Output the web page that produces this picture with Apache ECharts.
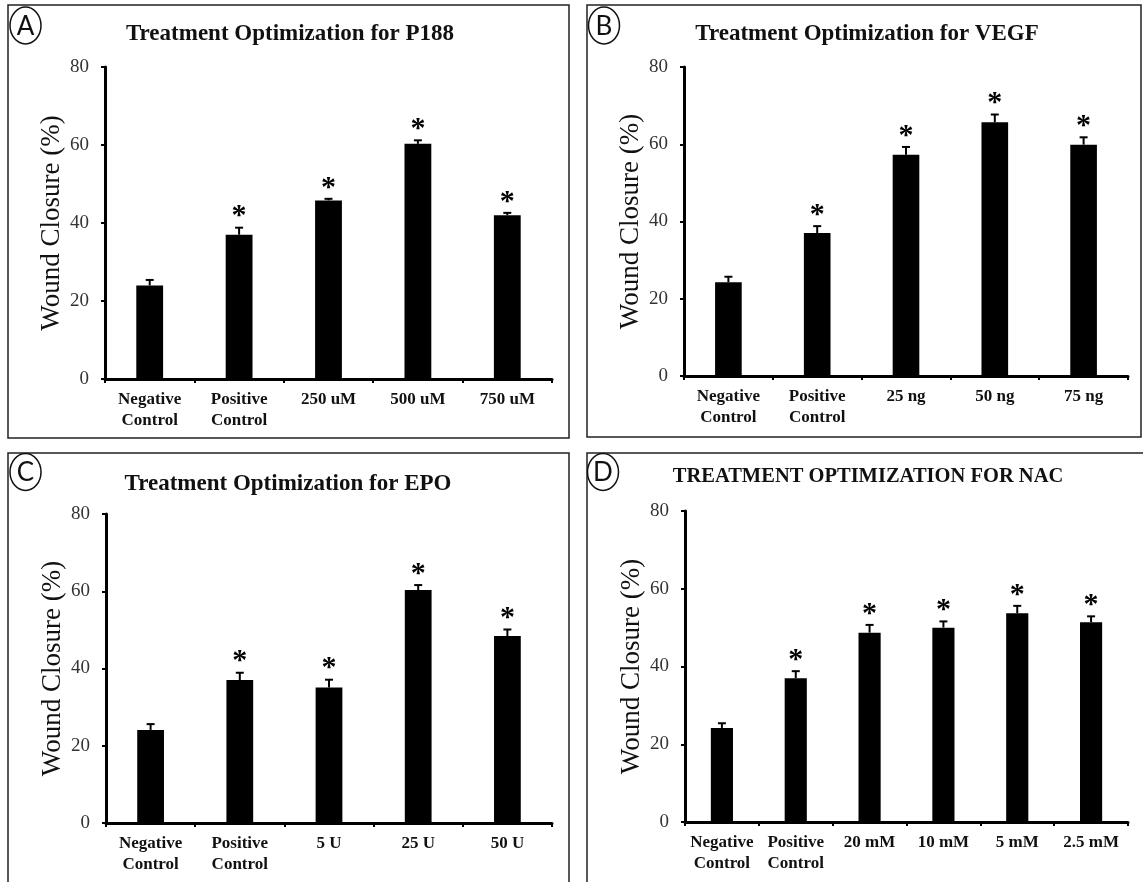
<!DOCTYPE html>
<html>
<head>
<meta charset="utf-8">
<script src="https://cdn.jsdelivr.net/npm/echarts@6/dist/echarts.min.js"></script>
<style>
  html, body { margin: 0; padding: 0; background: #fff; }
  #chart { width: 1143px; height: 882px; }
</style>
</head>
<body>
<div id="chart"></div>
<script>
// Wound closure (%) per treatment, mean and SEM, four panels
const yTicks = [0, 20, 40, 60, 80];

const catsA = ['Negative\nControl', 'Positive\nControl', '250 uM', '500 uM', '750 uM'];
const meanA = [24.0, 37.0, 45.8, 60.3, 42.0];
const errA  = [1.4, 1.8, 0.4, 0.9, 0.6];
const sigA  = ['', '*', '*', '*', '*'];

const catsB = ['Negative\nControl', 'Positive\nControl', '25 ng', '50 ng', '75 ng'];
const meanB = [24.3, 37.0, 57.3, 65.7, 59.9];
const errB  = [1.4, 1.8, 2.0, 2.0, 1.9];
const sigB  = ['', '*', '*', '*', '*'];

const catsC = ['Negative\nControl', 'Positive\nControl', '5 U', '25 U', '50 U'];
const meanC = [24.1, 37.0, 35.1, 60.3, 48.4];
const errC  = [1.5, 1.9, 2.0, 1.3, 1.7];
const sigC  = ['', '*', '*', '*', '*'];

const catsD = ['Negative\nControl', 'Positive\nControl', '20 mM', '10 mM', '5 mM', '2.5 mM'];
const meanD = [24.2, 37.0, 48.7, 50.0, 53.7, 51.4];
const errD  = [1.2, 1.8, 2.0, 1.6, 1.9, 1.5];
const sigD  = ['', '*', '*', '*', '*', '*'];

const titles = [
  'Treatment Optimization for P188',
  'Treatment Optimization for VEGF',
  'Treatment Optimization for EPO',
  'TREATMENT OPTIMIZATION FOR NAC'
];
const letters = ['A', 'B', 'C', 'D'];
const yName = 'Wound Closure (%)';

const SERIF = '"Liberation Serif", "Times New Roman", serif';

const panels = [
  { cats: catsA, mean: meanA, err: errA, sig: sigA,
    grid: { left: 105, top: 67, width: 447, height: 312 },
    frame: { x: 8, y: 5, width: 561, height: 433 },
    title: { x: 290, y: 34, size: 23 }, badge: { cx: 25.5, cy: 25.5 } },
  { cats: catsB, mean: meanB, err: errB, sig: sigB,
    grid: { left: 684, top: 67, width: 444, height: 309 },
    frame: { x: 587, y: 5, width: 554, height: 432 },
    title: { x: 867, y: 34, size: 23 }, badge: { cx: 604, cy: 25.5 } },
  { cats: catsC, mean: meanC, err: errC, sig: sigC,
    grid: { left: 106, top: 514, width: 446, height: 309 },
    frame: { x: 8, y: 453, width: 561, height: 460 },
    title: { x: 288, y: 484, size: 23 }, badge: { cx: 25.5, cy: 472 } },
  { cats: catsD, mean: meanD, err: errD, sig: sigD,
    grid: { left: 685, top: 511, width: 443, height: 311 },
    frame: { x: 587, y: 453, width: 580, height: 460 },
    title: { x: 868, y: 477, size: 20.5 }, badge: { cx: 603, cy: 472 } }
];

const grids = [], xAxes = [], yAxes = [], series = [], graphics = [];

panels.forEach((p, i) => {
  grids.push(Object.assign({ containLabel: false }, p.grid));

  xAxes.push({
    type: 'category', gridIndex: i, data: p.cats,
    axisLine: { show: true, lineStyle: { color: '#000', width: 3 } },
    axisTick: { show: true, length: 4, lineStyle: { color: '#000', width: 2 } },
    axisLabel: { fontFamily: SERIF, fontWeight: 'bold', fontSize: 17, color: '#111',
                 lineHeight: 21, margin: 10, interval: 0 },
    splitLine: { show: false }
  });

  yAxes.push({
    type: 'value', gridIndex: i,
    min: yTicks[0], max: yTicks[yTicks.length - 1], interval: yTicks[1] - yTicks[0],
    name: yName, nameLocation: 'middle', nameGap: 40,
    nameTextStyle: { fontFamily: SERIF, fontSize: 27, color: '#111' },
    axisLine: { show: true, lineStyle: { color: '#000', width: 3 } },
    axisTick: { show: true, length: 4, lineStyle: { color: '#000', width: 2 } },
    axisLabel: { fontFamily: SERIF, fontSize: 19, color: '#333', margin: 16 },
    splitLine: { show: false }
  });

  series.push({
    type: 'bar', xAxisIndex: i, yAxisIndex: i,
    data: p.mean, barWidth: '30%',
    itemStyle: { color: '#000' }, silent: true
  });

  // upper error bars with significance asterisks
  const sig = p.sig;
  series.push({
    type: 'custom', xAxisIndex: i, yAxisIndex: i,
    data: p.mean.map((m, k) => [k, m, p.err[k]]),
    silent: true, z: 5,
    renderItem: (params, api) => {
      const k = api.value(0), m = api.value(1), e = api.value(2);
      const base = api.coord([k, m]);
      const top = api.coord([k, m + e]);
      const children = [
        { type: 'line', shape: { x1: base[0], y1: base[1], x2: top[0], y2: top[1] },
          style: { stroke: '#000', lineWidth: 2 } },
        { type: 'line', shape: { x1: top[0] - 4, y1: top[1], x2: top[0] + 4, y2: top[1] },
          style: { stroke: '#000', lineWidth: 2 } }
      ];
      if (sig[params.dataIndex]) {
        children.push({
          type: 'text',
          x: top[0], y: top[1] - 26,
          style: { text: sig[params.dataIndex], align: 'center', verticalAlign: 'top',
                   font: 'bold 30px ' + SERIF, fill: '#000' }
        });
      }
      return { type: 'group', children };
    }
  });

  graphics.push({
    type: 'rect', silent: true, z: 0,
    shape: p.frame,
    style: { fill: 'none', stroke: '#222', lineWidth: 1.5 }
  });
  graphics.push({
    type: 'text', silent: true,
    x: p.title.x, y: p.title.y,
    style: { text: titles[i], align: 'center', verticalAlign: 'middle',
             font: 'bold ' + p.title.size + 'px ' + SERIF, fill: '#111' }
  });
  graphics.push({
    type: 'ellipse', silent: true,
    shape: { cx: p.badge.cx, cy: p.badge.cy, rx: 15.5, ry: 18.5 },
    style: { fill: 'none', stroke: '#111', lineWidth: 1.5 }
  });
  graphics.push({
    type: 'text', silent: true,
    x: p.badge.cx, y: p.badge.cy + 1,
    style: { text: letters[i], align: 'center', verticalAlign: 'middle',
             font: '26px Lato, "Open Sans", sans-serif', fill: '#111' }
  });
});

const chart = echarts.init(document.getElementById('chart'), null, { renderer: 'canvas' });
chart.setOption({
  backgroundColor: '#fff',
  animation: false,
  grid: grids,
  xAxis: xAxes,
  yAxis: yAxes,
  series: series,
  graphic: { elements: graphics }
});
</script>
</body>
</html>
